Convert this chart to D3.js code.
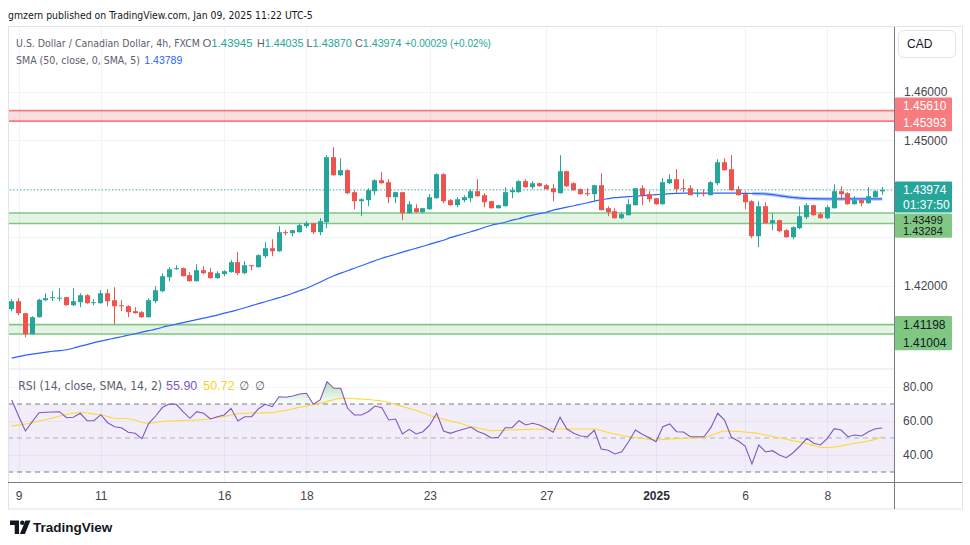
<!DOCTYPE html>
<html><head><meta charset="utf-8">
<script src="https://cdn.jsdelivr.net/npm/d3@7"></script>
<style>
html,body{margin:0;padding:0;background:#fff;}
svg{display:block;font-family:"Liberation Sans",Arial,sans-serif;}
</style></head><body>
<svg id="chart" width="970" height="545"></svg>
<script>
// ---------- DATA ----------
const opens = [
1.41515,1.41680,1.41433,1.41000,1.41351,1.41701,1.41752,1.41742,1.41763,1.41598,
1.41660,1.41804,1.41649,1.41639,1.41845,1.41701,1.41598,1.41577,1.41474,1.41454,
1.41351,1.41680,1.41886,1.42175,1.42340,1.42361,1.42217,1.42093,1.42320,1.42279,
1.42155,1.42238,1.42279,1.42485,1.42258,1.42423,1.42382,1.42608,1.42773,1.42711,
1.43103,1.43082,1.43103,1.43227,1.43289,1.43103,1.43310,1.44650,1.44278,1.44381,
1.43928,1.43742,1.43763,1.43948,1.44175,1.44134,1.43825,1.43928,1.43495,1.43598,
1.43516,1.43577,1.43804,1.44299,1.43763,1.43660,1.43763,1.43804,1.43948,1.43866,
1.43742,1.43598,1.43639,1.43928,1.43928,1.44155,1.44031,1.44113,1.44072,1.44010,
1.43907,1.44361,1.44113,1.43990,1.43907,1.43887,1.44072,1.43598,1.43536,1.43392,
1.43454,1.43660,1.44010,1.43887,1.43804,1.43680,1.44113,1.44196,1.44010,1.44010,
1.43887,1.43907,1.43866,1.44113,1.44546,1.44402,1.43990,1.43887,1.43742,1.43020,
1.43639,1.43289,1.43351,1.43144,1.43000,1.43186,1.43412,1.43660,1.43474,1.43392,
1.43598,1.43948,1.43907,1.43680,1.43763,1.43701,1.43825,1.43945];
const highs = [
1.41721,1.41742,1.41440,1.41371,1.41730,1.41845,1.41886,1.41948,1.41770,1.41948,
1.41845,1.41824,1.41721,1.41907,1.41928,1.41969,1.41701,1.41598,1.41557,1.41474,
1.41742,1.41989,1.42258,1.42382,1.42423,1.42372,1.42279,1.42444,1.42402,1.42361,
1.42299,1.42320,1.42526,1.42691,1.42505,1.42430,1.42650,1.42897,1.42959,1.43227,
1.43144,1.43150,1.43289,1.43330,1.43295,1.43392,1.44691,1.44856,1.44629,1.44402,
1.43969,1.43804,1.44010,1.44196,1.44340,1.44196,1.43935,1.43935,1.43742,1.43680,
1.43605,1.43887,1.44320,1.44320,1.43783,1.43825,1.43866,1.43990,1.44196,1.43907,
1.43750,1.43670,1.44031,1.44031,1.44175,1.44196,1.44155,1.44120,1.44093,1.44093,
1.44691,1.44370,1.44134,1.44010,1.44010,1.44080,1.44320,1.43639,1.43598,1.43516,
1.43783,1.44015,1.44072,1.43948,1.43810,1.44217,1.44299,1.44402,1.44196,1.44072,
1.43990,1.43990,1.44155,1.44608,1.44629,1.44691,1.44051,1.43948,1.43763,1.43742,
1.43721,1.43495,1.43360,1.43165,1.43227,1.43639,1.43701,1.43670,1.43516,1.43660,
1.44093,1.44051,1.43928,1.43845,1.43804,1.44031,1.43969,1.44035];
const lows = [
1.41474,1.41392,1.40938,1.40995,1.41345,1.41680,1.41680,1.41680,1.41588,1.41577,
1.41557,1.41629,1.41598,1.41629,1.41577,1.41207,1.41474,1.41351,1.41425,1.41340,
1.41340,1.41639,1.41866,1.42093,1.42330,1.42190,1.42085,1.42085,1.42238,1.42150,
1.42145,1.42196,1.42270,1.42217,1.42238,1.42320,1.42372,1.42567,1.42608,1.42700,
1.43041,1.43020,1.43095,1.43186,1.43062,1.43041,1.43186,1.44270,1.44258,1.43887,
1.43577,1.43433,1.43639,1.43866,1.44105,1.43701,1.43701,1.43351,1.43485,1.43505,
1.43495,1.43567,1.43795,1.43701,1.43650,1.43619,1.43721,1.43721,1.43835,1.43619,
1.43590,1.43590,1.43630,1.43804,1.43920,1.44020,1.43990,1.44045,1.43980,1.43742,
1.43900,1.44031,1.43960,1.43880,1.43845,1.43721,1.43550,1.43433,1.43385,1.43371,
1.43445,1.43650,1.43660,1.43721,1.43670,1.43670,1.44093,1.43907,1.43928,1.43860,
1.43825,1.43845,1.43860,1.44072,1.44375,1.43960,1.43860,1.43577,1.42979,1.42794,
1.43280,1.43144,1.43103,1.42990,1.42959,1.43165,1.43371,1.43445,1.43385,1.43371,
1.43590,1.43763,1.43670,1.43670,1.43639,1.43690,1.43815,1.43870];
const closes = [
1.41680,1.41433,1.41000,1.41351,1.41710,1.41742,1.41763,1.41752,1.41598,1.41680,
1.41804,1.41639,1.41660,1.41845,1.41680,1.41577,1.41577,1.41454,1.41433,1.41351,
1.41701,1.41907,1.42196,1.42340,1.42361,1.42196,1.42093,1.42320,1.42258,1.42155,
1.42258,1.42299,1.42485,1.42258,1.42423,1.42402,1.42629,1.42773,1.42711,1.43103,
1.43082,1.43144,1.43248,1.43289,1.43103,1.43330,1.44650,1.44278,1.44381,1.43907,
1.43742,1.43783,1.43969,1.44175,1.44113,1.43825,1.43928,1.43495,1.43680,1.43516,
1.43598,1.43825,1.44299,1.43742,1.43660,1.43783,1.43825,1.43948,1.43845,1.43721,
1.43598,1.43660,1.43928,1.43969,1.44155,1.44031,1.44113,1.44051,1.43990,1.43928,
1.44361,1.44051,1.43969,1.43887,1.43887,1.44072,1.43557,1.43516,1.43392,1.43474,
1.43680,1.44010,1.43866,1.43783,1.43680,1.44134,1.44196,1.43990,1.43990,1.43866,
1.43907,1.43887,1.44134,1.44546,1.44381,1.43969,1.43866,1.43721,1.43020,1.43639,
1.43289,1.43351,1.43124,1.43000,1.43206,1.43433,1.43660,1.43454,1.43392,1.43619,
1.43948,1.43887,1.43680,1.43763,1.43701,1.43845,1.43948,1.43974];
const smaValues = [
1.40505,1.40536,1.40567,1.40588,1.40608,1.40629,1.40649,1.40660,1.40680,1.40711,
1.40753,1.40784,1.40825,1.40856,1.40887,1.40918,1.40948,1.40979,1.41010,1.41041,
1.41072,1.41103,1.41144,1.41175,1.41206,1.41237,1.41268,1.41299,1.41330,1.41361,
1.41392,1.41433,1.41464,1.41505,1.41546,1.41588,1.41629,1.41670,1.41711,1.41753,
1.41794,1.41845,1.41897,1.41948,1.42010,1.42072,1.42144,1.42206,1.42258,1.42309,
1.42361,1.42412,1.42464,1.42515,1.42567,1.42608,1.42649,1.42691,1.42732,1.42773,
1.42814,1.42856,1.42897,1.42938,1.42990,1.43031,1.43072,1.43113,1.43155,1.43206,
1.43247,1.43278,1.43309,1.43351,1.43381,1.43423,1.43454,1.43485,1.43515,1.43557,
1.43588,1.43619,1.43649,1.43680,1.43711,1.43742,1.43773,1.43794,1.43814,1.43825,
1.43835,1.43845,1.43856,1.43866,1.43876,1.43887,1.43897,1.43903,1.43907,1.43907,
1.43907,1.43907,1.43907,1.43907,1.43907,1.43907,1.43907,1.43903,1.43901,1.43897,
1.43893,1.43876,1.43856,1.43835,1.43819,1.43804,1.43798,1.43794,1.43792,1.43790,
1.43790,1.43790,1.43790,1.43790,1.43790,1.43790,1.43790,1.43789];
const rsiValues = [
72.35,62.94,54.12,59.59,64.88,65.12,65.29,65.47,61.94,62.18,
64.53,60.18,60.18,63.71,59.00,56.65,56.06,53.35,52.76,49.59,
58.65,62.94,68.06,70.00,69.82,65.47,61.59,65.47,64.53,61.18,
62.53,63.53,67.47,60.00,62.53,62.53,67.24,69.82,68.41,74.29,
73.94,74.71,75.88,76.29,69.82,72.35,83.12,79.24,79.24,67.47,
63.53,63.53,65.47,68.82,67.82,60.59,61.18,52.35,55.12,52.35,
53.71,57.65,64.53,54.12,52.76,54.12,55.29,56.47,53.82,52.35,
50.00,50.41,56.06,56.06,60.18,57.65,58.65,57.65,55.71,53.35,
62.18,55.29,52.76,51.18,50.76,54.53,43.53,42.76,40.59,41.94,
47.82,54.71,52.18,50.18,47.82,56.65,58.24,53.71,53.53,50.76,
50.76,50.76,56.06,64.53,60.59,50.41,48.24,45.29,34.71,45.88,
41.76,42.53,40.00,38.41,41.35,45.29,49.82,46.88,45.88,49.82,
55.47,54.71,50.76,51.76,51.18,53.71,55.47,55.90];
const rsiMaValues = [
57.06,57.65,58.24,59.00,60.00,60.88,61.76,62.94,63.82,64.71,
65.12,64.71,64.12,63.53,62.65,61.59,61.47,61.29,60.59,59.12,
58.65,59.12,59.71,60.00,60.18,60.29,60.41,60.59,60.88,61.35,
62.06,62.65,63.53,64.29,64.59,64.71,64.71,64.82,64.88,65.59,
66.29,67.06,68.06,68.82,69.59,70.41,71.47,72.53,73.35,73.35,
73.12,72.94,72.65,72.24,71.76,70.88,69.71,68.53,67.35,66.18,
64.82,63.24,62.06,61.00,60.00,59.00,57.94,56.65,55.88,55.00,
54.29,54.41,54.59,54.71,54.82,55.00,55.12,55.18,55.24,55.29,
55.29,55.29,55.29,55.29,55.29,55.29,54.41,53.24,52.35,51.47,
50.88,50.29,49.71,49.24,48.82,49.12,49.41,49.53,49.71,49.88,
50.06,50.24,51.47,52.94,54.12,54.00,53.88,53.53,53.18,52.65,
51.76,50.88,50.12,49.29,48.41,47.65,46.76,45.59,44.53,44.41,
44.71,45.29,46.18,46.94,47.47,48.24,49.12,50.72];
const tickIndex = [1,13,31,43,61,78,94,107,119];
const tickLabels = ["9","11","16","18","23","27","2025","6","8"];
const priceTicks = [1.46,1.45,1.42];
const priceGrid = [1.41,1.42,1.43,1.44,1.45,1.46];
const rsiTicks = [80,60,40];
const rsiLevels = [70,50,30];
const zoneTops = [1.45610,1.43499,1.41198];
const zoneBottoms = [1.45393,1.43284,1.41004];
const zoneKinds = ["res","sup","sup"];
const countdown = "01:37:50";
const smaValueText = "1.43789";
const changeText = "+0.00029 (+0.02%)";

// ---------- LAYOUT ----------
const FONT = '"Liberation Sans", Arial, sans-serif';
const LFONT = '"Liberation Sans Narrow","DejaVu Sans Condensed","Liberation Sans",Arial,sans-serif';
const L = 8, AX = 894, FR = 962;
const PT = 27, PB = 368, RT = 370, RB = 482.5, FB = 509;
const UP = "#26a69a", DN = "#ef5350";
const n = closes.length;

const svg = d3.select("#chart");
svg.append("rect").attr("width",970).attr("height",545).attr("fill","#fff");

const x = d3.scaleLinear().domain([0, n-1]).range([11.7, 882.2]);
const yP = d3.scaleLinear().domain([1.42, 1.46]).range([285.7, 91.7]);
const yR = d3.scaleLinear().domain([40, 80]).range([455, 387]);

const defs = svg.append("defs");
defs.append("clipPath").attr("id","cp").append("rect").attr("x",L).attr("y",PT).attr("width",AX-L).attr("height",PB-PT);
defs.append("clipPath").attr("id","cr").append("rect").attr("x",L).attr("y",RT).attr("width",AX-L).attr("height",RB-RT);
defs.append("clipPath").attr("id","cr70").append("rect").attr("x",L).attr("y",RT).attr("width",AX-L).attr("height",yR(70)-RT);
const grad = defs.append("linearGradient").attr("id","g70").attr("gradientUnits","userSpaceOnUse")
  .attr("x1",0).attr("x2",0).attr("y1",yR(85)).attr("y2",yR(70));
grad.append("stop").attr("offset","0%").attr("stop-color","rgba(76,175,80,0.45)");
grad.append("stop").attr("offset","100%").attr("stop-color","rgba(76,175,80,0.03)");

// ---------- GRID ----------
const grid = svg.append("g").attr("stroke","#f0f3fa").attr("stroke-width",1);
tickIndex.forEach(i=>{
  const xx = Math.round(x(i))+0.5;
  grid.append("line").attr("x1",xx).attr("x2",xx).attr("y1",PT).attr("y2",RB);
});
priceGrid.forEach(p=>{
  const yy = Math.round(yP(p))+0.5;
  grid.append("line").attr("x1",L).attr("x2",AX).attr("y1",yy).attr("y2",yy);
});

// ---------- PRICE PANE ----------
const pp = svg.append("g").attr("clip-path","url(#cp)");
zoneTops.forEach((t,k)=>{
  const res = zoneKinds[k]==="res";
  const y1 = yP(t), y2 = yP(zoneBottoms[k]);
  pp.append("rect").attr("x",L).attr("width",AX-L).attr("y",y1).attr("height",y2-y1)
    .attr("fill", res ? "rgba(247,124,128,0.25)" : "rgba(129,199,132,0.2)");
  [y1,y2].forEach(yy=>pp.append("line").attr("x1",L).attr("x2",AX).attr("y1",yy).attr("y2",yy)
    .attr("stroke", res ? "#f77c80" : "#81c784").attr("stroke-width",1.6));
});

const smaLine = d3.line().x((d,i)=>x(i)).y(d=>yP(d)).curve(d3.curveMonotoneX);
const haloStart = 108;
pp.append("path").datum(smaValues.slice(haloStart))
  .attr("d", d3.line().x((d,i)=>x(i+haloStart)).y(d=>yP(d)).curve(d3.curveMonotoneX))
  .attr("fill","none").attr("stroke","rgba(41,98,255,0.35)").attr("stroke-width",3.5);
pp.append("path").datum(smaValues).attr("d",smaLine)
  .attr("fill","none").attr("stroke","#2962ff").attr("stroke-width",1.2);

const cg = pp.append("g");
for (let i=0;i<n;i++){
  const o=opens[i], c=closes[i];
  const hi=Math.max(highs[i],o,c), lo=Math.min(lows[i],o,c);
  const col = c>=o ? UP : DN;
  const bx = Math.round(x(i)-2.5);
  cg.append("rect").attr("x",bx+2).attr("width",1).attr("y",yP(hi)).attr("height",Math.max(1,yP(lo)-yP(hi))).attr("fill",col);
  const yt = yP(Math.max(o,c)), yb = yP(Math.min(o,c));
  cg.append("rect").attr("x",bx).attr("width",5).attr("y",yt).attr("height",Math.max(1,yb-yt)).attr("fill",col);
}
const lastY = yP(closes[n-1]);
pp.append("line").attr("x1",L+2).attr("x2",AX).attr("y1",lastY).attr("y2",lastY)
  .attr("stroke",UP).attr("stroke-width",1).attr("stroke-dasharray","1.2,2.2");

// ---------- RSI PANE ----------
const rp = svg.append("g").attr("clip-path","url(#cr)");
rp.append("rect").attr("x",L).attr("width",AX-L).attr("y",yR(70)).attr("height",yR(30)-yR(70))
  .attr("fill","rgba(126,87,194,0.1)");
rsiTicks.forEach(v=>{
  const yy=Math.round(yR(v))+0.5;
  rp.append("line").attr("x1",L).attr("x2",AX).attr("y1",yy).attr("y2",yy).attr("stroke","rgba(126,87,194,0.08)");
});
rsiLevels.forEach(v=>{
  rp.append("line").attr("x1",L).attr("x2",AX).attr("y1",yR(v)).attr("y2",yR(v))
    .attr("stroke", v===50 ? "rgba(120,123,134,0.55)" : "#787b86").attr("stroke-width",1)
    .attr("stroke-dasharray","5,4");
});
rp.append("path").datum(rsiValues).attr("clip-path","url(#cr70)")
  .attr("d", d3.area().x((d,i)=>x(i)).y0(yR(70)).y1(d=>yR(d)))
  .attr("fill","url(#g70)");
rp.append("path").datum(rsiMaValues)
  .attr("d", d3.line().x((d,i)=>x(i)).y(d=>yR(d)).curve(d3.curveMonotoneX))
  .attr("fill","none").attr("stroke","#fdd835").attr("stroke-width",1.1);
rp.append("path").datum(rsiValues)
  .attr("d", d3.line().x((d,i)=>x(i)).y(d=>yR(d)))
  .attr("fill","none").attr("stroke","#7e57c2").attr("stroke-width",1.1);

// ---------- FRAME ----------
const fr = svg.append("g");
fr.append("rect").attr("x",L+0.5).attr("y",PT-0.5).attr("width",FR-L).attr("height",FB-PT+0.5)
  .attr("fill","none").attr("stroke","#e0e3eb");
fr.append("line").attr("x1",L).attr("x2",AX).attr("y1",PB+1).attr("y2",PB+1).attr("stroke","#e0e3eb");
fr.append("line").attr("x1",AX+0.5).attr("x2",AX+0.5).attr("y1",PT).attr("y2",FB).attr("stroke","#787b86");
fr.append("line").attr("x1",L).attr("x2",FR).attr("y1",RB).attr("y2",RB).attr("stroke","#787b86");

// ---------- AXES ----------
function styleAxis(g){
  g.select(".domain").remove();
  g.selectAll("text").attr("fill","#434651").style("font-family",FONT).style("font-size","12px");
}
svg.append("g").attr("transform",`translate(${AX},0)`)
  .call(d3.axisRight(yP).tickValues(priceTicks).tickFormat(d3.format(".5f")).tickSize(0).tickPadding(10))
  .call(styleAxis);
svg.append("g").attr("transform",`translate(${AX},0)`)
  .call(d3.axisRight(yR).tickValues(rsiTicks).tickFormat(d3.format(".2f")).tickSize(0).tickPadding(9))
  .call(styleAxis);
const xa = svg.append("g").attr("transform",`translate(0,${RB})`)
  .call(d3.axisBottom(x).tickValues(tickIndex).tickFormat((d,i)=>tickLabels[i]).tickSize(0).tickPadding(9))
  .call(styleAxis);
xa.selectAll("text").filter((d,i)=>tickLabels[i]==="2025").attr("font-weight","bold").attr("fill","#2a2e39");

// ---------- PRICE LABEL BOXES ----------
const lab = svg.append("g").style("font-family",FONT).style("font-size","12px");
function box(y1,y2,fill){
  lab.append("rect").attr("x",AX+1).attr("width",57).attr("y",y1).attr("height",y2-y1).attr("fill",fill).attr("rx",1);
}
function txt(cy,t,col,fs){
  const e = lab.append("text").attr("x",AX+9).attr("y",cy).attr("dy","0.36em").attr("fill",col).text(t);
  if (fs) e.style("font-size",fs);
}
const fmt = d3.format(".5f");
{ const a=yP(zoneTops[0])-4.5, b=yP(zoneBottoms[0])+1.5;
  box(a-8.5,b+8.5,"#f77c80"); txt(a,fmt(zoneTops[0]),"#fff"); txt(b,fmt(zoneBottoms[0]),"#fff"); }
{ const a=lastY-0.5, b=a+15.5;
  box(a-8,b+7.5,UP); txt(a,fmt(closes[n-1]),"#fff"); txt(b,countdown,"#fff"); }
{ const top=yP(zoneTops[1])+0.5, a=top+6.8, b=a+11;
  box(top,b+6.5,"#81c784"); txt(a,fmt(zoneTops[1]),"#131722","11px"); txt(b,fmt(zoneBottoms[1]),"#131722","11px"); }
{ const a=yP(zoneTops[2]), b=a+17.6;
  box(a-8.5,b+8,"#81c784"); txt(a,fmt(zoneTops[2]),"#131722"); txt(b,fmt(zoneBottoms[2]),"#131722"); }

// currency button
svg.append("rect").attr("x",898.5).attr("y",30.5).attr("width",57).attr("height",27).attr("rx",5)
  .attr("fill","#fff").attr("stroke","#e0e3eb");
svg.append("text").attr("x",907).attr("y",44).attr("dy","0.36em").attr("fill","#131722")
  .style("font-family",FONT).style("font-size","12px").text("CAD");

// ---------- LEGENDS ----------
// segments at the reference x positions; each segment's font size is shrunk (never grown
// beyond maxSize) so that it fits the width it has in the reference, so nothing overlaps.
const lg = svg.append("g");
function row(yy, segs, maxSize){
  segs.forEach(s=>{
    const t = lg.append("text").attr("x",s.x).attr("y",yy)
      .style("font-family", s.num ? FONT : LFONT).style("font-size","12px");
    s.parts.forEach(p=>t.append("tspan").attr("fill",p[1]).text(p[0]));
    let k = maxSize/12;
    if (s.w){ const w = t.node().getComputedTextLength(); if (w>0) k = Math.min(k, s.w/w); }
    t.style("font-size",(12*k).toFixed(2)+"px");
  });
}
const G="#5d606b";
row(19,[{x:8,w:305,parts:[["gmzern published on TradingView.com, Jan 09, 2025 11:22 UTC-5","#131722"]]}],13);
row(47,[
  {x:16,w:184,parts:[["U.S. Dollar / Canadian Dollar, 4h, FXCM",G]]},
  {x:202.5,w:50,num:true,parts:[["O",G],[fmt(opens[n-1]),UP]]},
  {x:257,w:46.5,num:true,parts:[["H",G],[fmt(highs[n-1]),UP]]},
  {x:306.5,w:45.5,num:true,parts:[["L",G],[fmt(lows[n-1]),UP]]},
  {x:355,w:46.5,num:true,parts:[["C",G],[fmt(closes[n-1]),UP]]},
  {x:405,w:86,num:true,parts:[[changeText,UP]]}
],12.5);
row(63.5,[
  {x:16,w:124,parts:[["SMA (50, close, 0, SMA, 5)",G]]},
  {x:144.3,w:38,num:true,parts:[[smaValueText,"#2962ff"]]}
],12.5);
row(389.5,[
  {x:18.3,w:144,parts:[["RSI (14, close, SMA, 14, 2)",G]]},
  {x:166,w:33,num:true,parts:[[rsiValues[n-1].toFixed(2),"#7e57c2"]]},
  {x:203.3,w:32,num:true,parts:[[rsiMaValues[n-1].toFixed(2),"#f5d328"]]},
  {x:239.3,w:12,parts:[["∅",G]]},
  {x:255,w:12,parts:[["∅",G]]}
],12.5);

// ---------- LOGO ----------
const lo = svg.append("g");
lo.append("path").attr("d","M10 520.5h9v13.5h-4.3v-9h-4.7z").attr("fill","#131722");
lo.append("circle").attr("cx",22.3).attr("cy",522.8).attr("r",2.3).attr("fill","#131722");
lo.append("path").attr("d","M25.5 520.5h5l-5.6 13.5h-5z").attr("fill","#131722");
lo.append("text").attr("x",33).attr("y",532).attr("fill","#131722")
  .style("font-family",FONT).style("font-size","13.5px").style("font-weight","bold").text("TradingView");
</script>
</body></html>
